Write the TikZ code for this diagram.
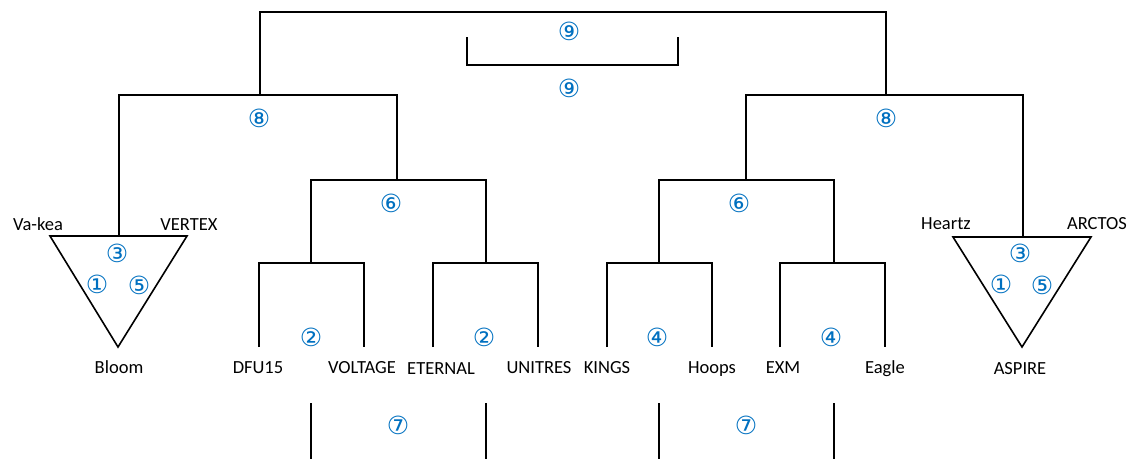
\documentclass[tikz,border=0pt]{standalone}
\usepackage{fontspec}
\setmainfont{Carlito}
\newfontfamily\circfont{DejaVu Sans}
\definecolor{roundblue}{HTML}{0070C0}

\begin{document}
\begin{tikzpicture}[x=1pt,y=-1pt,
      line width=1.6pt,
      team/.style={font=\fontsize{18.5}{20}\selectfont,inner sep=0pt,anchor=base},
      rnd/.style={font=\circfont\fontsize{25}{27}\selectfont,text=roundblue,inner sep=0pt}]
    \useasboundingbox (0,0) rectangle (1131,459);

    % final
    \coordinate (fin-l) at (260,12);
    \coordinate (fin-r) at (886,12);
    \coordinate (sf-l) at (260,95);
    \coordinate (sf-r) at (886,95);
    \draw (sf-l) -- (fin-l) -- (fin-r) -- (sf-r);
    \node[rnd] (r9a) at (569,31) {⑨};
    \coordinate (b9-a) at (467,37);
    \coordinate (b9-b) at (467,65);
    \coordinate (b9-c) at (678,65);
    \coordinate (b9-d) at (678,37);
    \draw (b9-a) -- (b9-b) -- (b9-c) -- (b9-d);
    \node[rnd] (r9b) at (569,88) {⑨};

    % left half
    \coordinate (l8-a) at (119,95);
    \coordinate (l8-b) at (397,95);
    \coordinate (ltri) at (119,236);
    \coordinate (l6) at (397,180);
    \draw (ltri) -- (l8-a) -- (l8-b) -- (l6);
    \node[rnd] (r8l) at (259,118) {⑧};
    \coordinate (ltri-a) at (50,236);
    \coordinate (ltri-b) at (187,236);
    \coordinate (ltri-c) at (118,347);
    \draw (ltri-a) -- (ltri-b) -- (ltri-c) -- cycle;
    \node[team] (vakea) at (38,230) {Va-kea};
    \node[team] (vertex) at (189,230) {VERTEX};
    \node[team] (bloom) at (119,373) {Bloom};
    \node[rnd] (r3l) at (117,253) {③};
    \node[rnd] (r1l) at (97,284) {①};
    \node[rnd] (r5l) at (139,285) {⑤};

    \coordinate (l6-a) at (311,180);
    \coordinate (l6-b) at (486,180);
    \coordinate (l2a) at (311,263);
    \coordinate (l2b) at (486,263);
    \draw (l2a) -- (l6-a) -- (l6-b) -- (l2b);
    \node[rnd] (r6l) at (391,203) {⑥};
    \coordinate (l2a-a) at (259,263);
    \coordinate (l2a-b) at (364,263);
    \coordinate (dfu) at (259,347);
    \coordinate (vol) at (364,347);
    \draw (dfu) -- (l2a-a) -- (l2a-b) -- (vol);
    \node[rnd] (r2a) at (311,337) {②};
    \coordinate (l2b-a) at (433,263);
    \coordinate (l2b-b) at (538,263);
    \coordinate (ete) at (433,347);
    \coordinate (uni) at (538,347);
    \draw (ete) -- (l2b-a) -- (l2b-b) -- (uni);
    \node[rnd] (r2b) at (484,337) {②};
    \node[team] (dfu15) at (258,373) {DFU15};
    \node[team] (voltage) at (362,373) {VOLTAGE};
    \node[team] (eternal) at (441,374) {ETERNAL};
    \node[team] (unitres) at (539,373) {UNITRES};
    \coordinate (l7-a) at (311,403);
    \coordinate (l7-b) at (486,403);
    \coordinate (l7-c) at (311,459);
    \coordinate (l7-d) at (486,459);
    \draw (l7-a) -- (l7-c);
    \draw (l7-b) -- (l7-d);
    \node[rnd] (r7l) at (398,425) {⑦};

    % right half
    \coordinate (r8-a) at (746,95);
    \coordinate (r8-b) at (1023,95);
    \coordinate (r6) at (746,180);
    \coordinate (rtri) at (1023,237);
    \draw (r6) -- (r8-a) -- (r8-b) -- (rtri);
    \node[rnd] (r8r) at (886,118) {⑧};
    \coordinate (rtri-a) at (953,237);
    \coordinate (rtri-b) at (1091,237);
    \coordinate (rtri-c) at (1022,347);
    \draw (rtri-a) -- (rtri-b) -- (rtri-c) -- cycle;
    \node[team] (heartz) at (946,229) {Heartz};
    \node[team] (arctos) at (1097,229) {ARCTOS};
    \node[team] (aspire) at (1020,374) {ASPIRE};
    \node[rnd] (r3r) at (1020,253) {③};
    \node[rnd] (r1r) at (1001,284) {①};
    \node[rnd] (r5r) at (1042,285) {⑤};

    \coordinate (r6-a) at (659,180);
    \coordinate (r6-b) at (834,180);
    \coordinate (r4a) at (659,263);
    \coordinate (r4b) at (834,263);
    \draw (r4a) -- (r6-a) -- (r6-b) -- (r4b);
    \node[rnd] (r6r) at (739,203) {⑥};
    \coordinate (r4a-a) at (607,263);
    \coordinate (r4a-b) at (712,263);
    \coordinate (kin) at (607,347);
    \coordinate (hoo) at (712,347);
    \draw (kin) -- (r4a-a) -- (r4a-b) -- (hoo);
    \node[rnd] (r4l) at (657,337) {④};
    \coordinate (r4b-a) at (780,263);
    \coordinate (r4b-b) at (885,263);
    \coordinate (exm) at (780,347);
    \coordinate (eag) at (885,347);
    \draw (exm) -- (r4b-a) -- (r4b-b) -- (eag);
    \node[rnd] (r4r) at (831,337) {④};
    \node[team] (kings) at (607,373) {KINGS};
    \node[team] (hoops) at (712,373) {Hoops};
    \node[team] (exmt) at (783,373) {EXM};
    \node[team] (eagle) at (885,373) {Eagle};
    \coordinate (r7-a) at (659,403);
    \coordinate (r7-b) at (834,403);
    \coordinate (r7-c) at (659,459);
    \coordinate (r7-d) at (834,459);
    \draw (r7-a) -- (r7-c);
    \draw (r7-b) -- (r7-d);
    \node[rnd] (r7r) at (746,425) {⑦};
  \end{tikzpicture}
\end{document}
